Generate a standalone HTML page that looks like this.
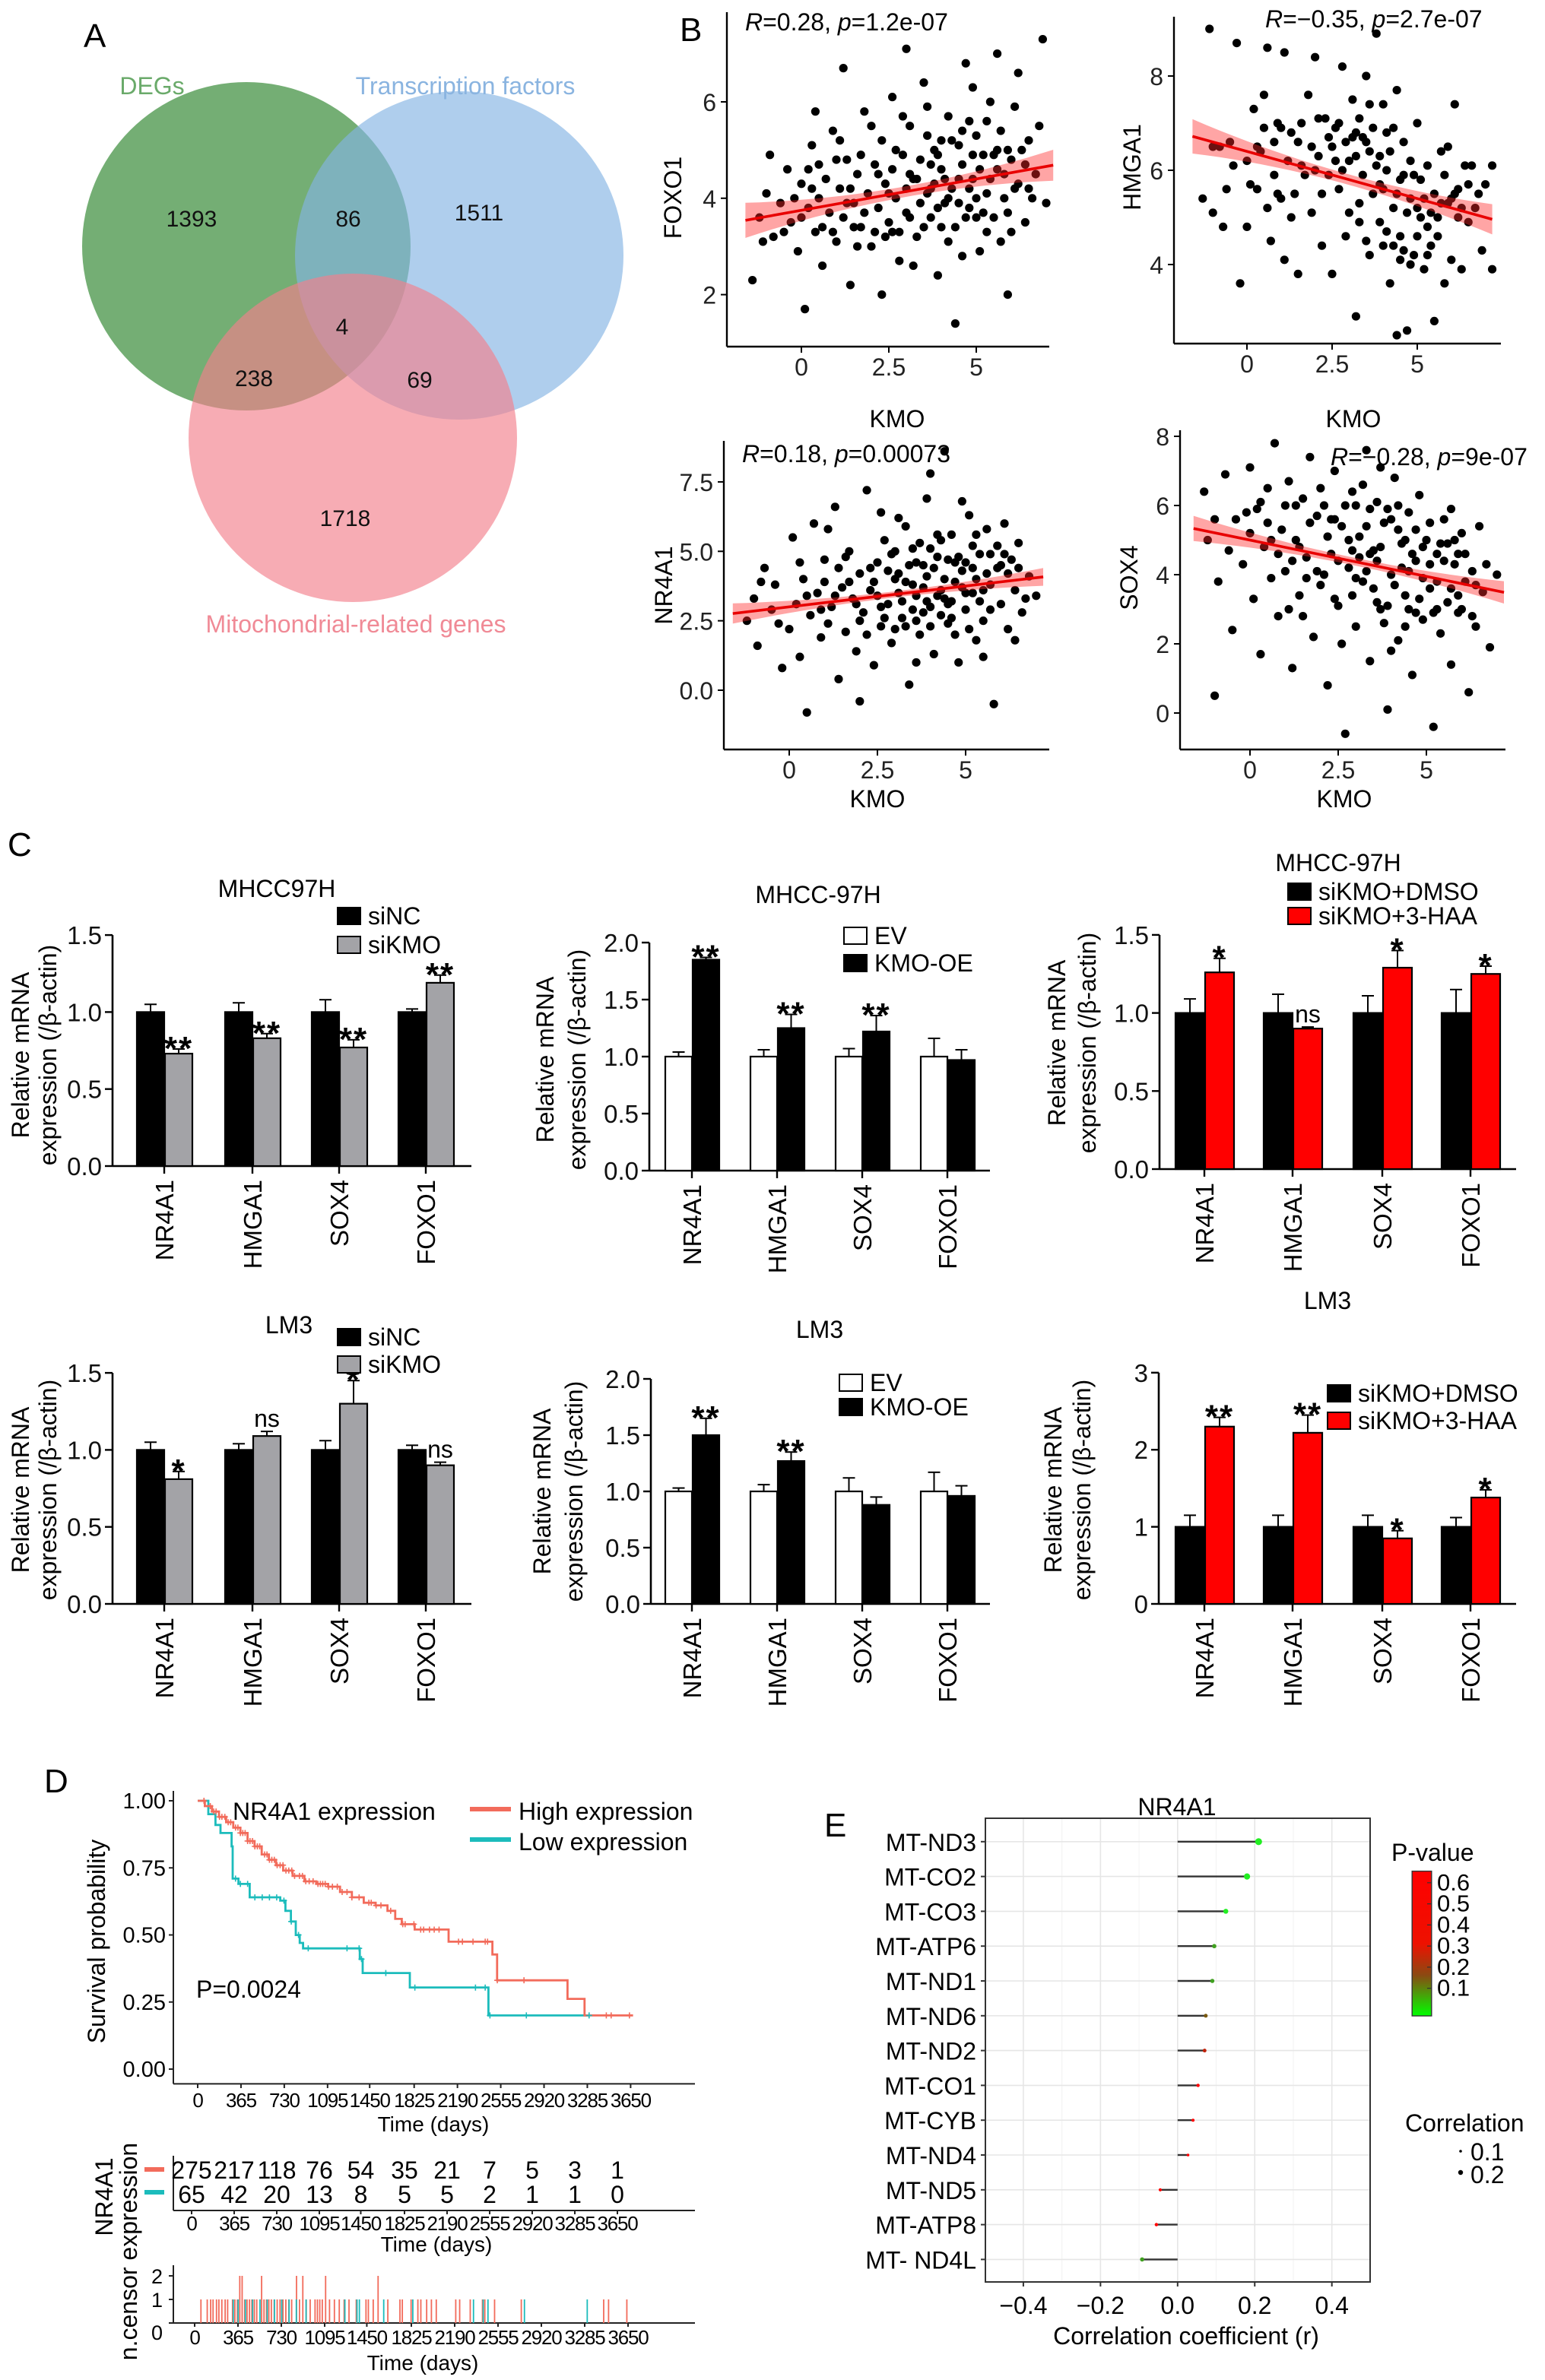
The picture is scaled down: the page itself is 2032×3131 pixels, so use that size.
<!DOCTYPE html>
<html><head><meta charset="utf-8"><title>KMO figure</title>
<style>
html,body{margin:0;padding:0;background:#fff;}
svg{display:block;font-family:"Liberation Sans",Arial,sans-serif;}
</style></head>
<body>
<svg id="fig" width="2032" height="3131" viewBox="0 0 1016 1565.5">
<rect x="0" y="0" width="1016" height="1565.5" fill="#fff"/>
<g>
  <text x="55" y="31" font-size="22">A</text>
  <circle cx="162" cy="162" r="108" fill="rgb(92,160,92)" fill-opacity="0.85"/>
  <circle cx="302" cy="168" r="108" fill="rgb(132,180,228)" fill-opacity="0.65"/>
  <circle cx="232" cy="288" r="108" fill="rgb(242,128,140)" fill-opacity="0.65"/>
  <text x="100" y="62" font-size="16" fill="#6aaa6a" text-anchor="middle">DEGs</text>
  <text x="306" y="62" font-size="16" fill="#8ab4e0" text-anchor="middle">Transcription factors</text>
  <text x="234" y="416" font-size="16" fill="#f08a96" text-anchor="middle">Mitochondrial-related genes</text>
  <g font-size="15" text-anchor="middle" fill="#111">
    <text x="126" y="149">1393</text>
    <text x="229" y="149">86</text>
    <text x="315" y="145">1511</text>
    <text x="225" y="220">4</text>
    <text x="167" y="254">238</text>
    <text x="276" y="255">69</text>
    <text x="227" y="346">1718</text>
  </g>
</g>
<g font-size="16">
  <text x="447" y="27" font-size="22">B</text>
  <text x="490" y="20"><tspan font-style="italic">R</tspan>=0.28, <tspan font-style="italic">p</tspan>=1.2e-07</text>
  <text x="832" y="18"><tspan font-style="italic">R</tspan>=−0.35, <tspan font-style="italic">p</tspan>=2.7e-07</text>
  <text x="488" y="304"><tspan font-style="italic">R</tspan>=0.18, <tspan font-style="italic">p</tspan>=0.00073</text>
  <text x="875" y="306"><tspan font-style="italic">R</tspan>=−0.28, <tspan font-style="italic">p</tspan>=9e-07</text>
  <text x="590" y="281" text-anchor="middle">KMO</text>
  <text x="890" y="281" text-anchor="middle">KMO</text>
  <text x="577" y="531" text-anchor="middle">KMO</text>
  <text x="884" y="531" text-anchor="middle">KMO</text>
  <text transform="translate(448,130) rotate(-90)" text-anchor="middle">FOXO1</text>
  <text transform="translate(750,110) rotate(-90)" text-anchor="middle">HMGA1</text>
  <text transform="translate(442,385) rotate(-90)" text-anchor="middle">NR4A1</text>
  <text transform="translate(748,380) rotate(-90)" text-anchor="middle">SOX4</text>
</g>
<text x="5" y="563" font-size="22">C</text>
<text x="29" y="1179" font-size="22">D</text>
<text x="542" y="1208" font-size="22">E</text>
<defs>
  <linearGradient id="pgrad" x1="0" y1="0" x2="0" y2="1">
    <stop offset="0" stop-color="#ff0000"/>
    <stop offset="0.5" stop-color="#ee1100"/>
    <stop offset="0.72" stop-color="#8a4a12"/>
    <stop offset="1" stop-color="#00ff00"/>
  </linearGradient>
</defs>
</svg>
<script>
// ---------------- DATA ----------------
const genes = ['NR4A1','HMGA1','SOX4','FOXO1'];
const foxo1Pts = [[-1.2,3.6],[-1,4.1],[-0.8,3.2],[-0.6,3.9],[-0.4,4.6],[-0.3,3.5],[-0.1,2.9],[0,4.3],[0.2,3.8],[0.3,5.1],[0.4,3.3],[0.5,4.0],[0.6,2.6],[0.7,4.4],[0.8,3.7],[0.9,5.4],[1.0,3.1],[1.1,4.2],[1.2,3.6],[1.3,4.8],[1.4,2.2],[1.5,3.9],[1.6,4.5],[1.7,3.4],[1.8,5.8],[1.9,4.1],[2.0,3.0],[2.1,4.7],[2.2,3.8],[2.3,5.2],[2.4,4.3],[2.5,3.5],[2.6,6.1],[2.7,4.0],[2.8,2.7],[2.9,4.9],[3.0,3.7],[3.1,5.5],[3.2,4.4],[3.3,3.2],[3.4,4.8],[3.5,6.4],[3.6,4.1],[3.7,3.6],[3.8,5.0],[3.9,2.4],[4.0,4.6],[4.1,3.9],[4.2,5.7],[4.3,4.2],[4.4,3.4],[4.5,5.1],[4.6,4.7],[4.7,6.8],[4.8,3.8],[4.9,4.4],[5.0,5.3],[5.1,2.9],[5.2,4.9],[5.3,4.1],[5.4,6.0],[5.5,3.6],[5.6,4.6],[5.7,5.4],[5.8,4.0],[5.9,2.0],[6.0,4.8],[6.1,5.9],[6.2,4.3],[6.4,3.5],[6.5,5.2],[6.7,4.5],[6.9,7.3],[7.0,3.9],[0.1,1.7],[1.2,6.7],[3.0,7.1],[4.4,1.4],[2.3,2.0],[5.6,7.0],[-1.4,2.3],[0.4,5.8],[3.6,5.9],[4.9,6.3],[2.0,5.5],[1.0,4.8],[3.8,4.3],[4.2,3.1],[5.3,3.3],[6.2,6.6],[-0.9,4.9],[2.8,3.3],[3.2,2.6],[4.6,2.8],[5.7,3.1],[6.6,4.0],[0.6,3.4],[1.6,3.0],[2.6,4.6],[3.4,3.9],[4.0,5.2],[5.0,4.0],[2.4,3.2],[3.1,4.5],[4.5,3.9],[5.9,5.0],[1.3,3.9],[0.2,4.6],[3.7,4.7],[4.8,5.6],[-1.1,3.1],[-0.5,3.3],[0.0,3.6],[0.5,4.7],[0.9,3.3],[1.4,4.2],[1.8,3.7],[2.1,3.3],[2.5,4.1],[2.7,5.0],[3.0,4.2],[3.3,4.4],[3.5,3.4],[3.7,4.2],[3.9,3.8],[4.1,4.4],[4.3,5.2],[4.5,4.4],[4.7,3.6],[4.9,4.9],[5.1,4.6],[5.2,3.7],[5.4,4.4],[5.6,5.0],[5.8,4.5],[6.0,3.3],[6.3,5.0],[6.5,4.2],[6.8,5.5],[1.1,5.2],[2.2,4.5],[2.9,5.7],[3.6,5.3],[4.2,4.0],[4.8,4.2],[5.3,5.6],[6.1,4.2],[1.7,4.9],[0.3,4.2],[2.6,3.3],[3.9,4.9],[4.6,5.4],[5.5,4.9],[6.4,4.7],[-0.2,4.0],[1.5,3.4],[3.1,3.6],[4.0,3.4],[5.0,3.6],[5.9,3.7]];
const hmga1Pts = [[-1.3,5.4],[-1.1,9.0],[-1,5.1],[-0.8,6.5],[-0.7,4.8],[-0.6,5.6],[-0.4,6.1],[-0.3,8.7],[-0.2,3.6],[0,6.2],[0,4.8],[0.2,7.3],[0.3,5.6],[0.4,6.4],[0.5,7.6],[0.6,8.6],[0.6,5.2],[0.7,4.5],[0.8,6.6],[0.9,7.0],[1.0,5.4],[1.1,8.5],[1.1,4.1],[1.3,6.8],[1.4,5.5],[1.5,3.8],[1.6,6.1],[1.8,7.6],[1.9,5.1],[2.0,8.4],[2.1,6.3],[2.2,4.4],[2.3,7.1],[2.4,5.9],[2.5,3.8],[2.6,6.9],[2.7,5.6],[2.8,8.2],[2.9,4.6],[3.0,6.2],[3.1,7.5],[3.2,2.9],[3.3,5.3],[3.4,6.7],[3.5,8.0],[3.6,4.2],[3.7,6.9],[3.7,5.5],[3.8,8.9],[3.9,4.9],[4.0,7.4],[4.1,6.0],[4.2,3.6],[4.3,5.2],[4.4,7.7],[4.5,4.6],[4.6,6.6],[4.7,2.6],[4.8,5.4],[4.9,4.2],[5.0,7.0],[5.1,5.8],[5.2,3.9],[5.3,6.1],[5.4,4.4],[5.5,2.8],[5.6,5.0],[5.7,6.4],[5.8,3.6],[5.9,5.3],[6.0,4.1],[6.1,7.4],[6.2,5.6],[6.3,3.9],[6.4,6.1],[6.5,4.9],[6.7,5.2],[6.9,4.3],[7.0,5.7],[7.2,6.1],[7.2,3.9],[6.6,6.1],[5.3,4.8],[4.6,5.9],[3.9,6.3],[3.3,7.1],[2.6,6.2],[1.7,5.9],[0.9,5.5],[4.1,4.7],[4.4,2.5],[5.9,6.5],[2.1,7.1],[2.9,6.6],[4.8,4.0],[5.5,5.5],[3.5,4.5],[1.3,5.0],[6.2,5.0],[4.3,6.9],[3.2,6.8],[4.0,5.6],[5.0,5.2],[2.4,6.7],[3.6,6.4],[4.5,5.8],[5.7,5.3],[1.0,6.9],[-1.0,6.5],[-0.5,6.6],[0.1,5.7],[0.5,6.9],[0.8,5.9],[1.2,6.2],[1.6,7.0],[1.9,6.5],[2.2,5.5],[2.5,6.5],[2.8,6.0],[3.0,5.1],[3.2,6.3],[3.4,5.9],[3.6,7.4],[3.8,6.1],[4.0,4.4],[4.2,6.4],[4.4,5.5],[4.6,4.3],[4.8,6.2],[5.0,4.6],[5.2,5.4],[5.4,5.1],[5.6,4.6],[5.8,5.9],[6.0,5.4],[6.3,5.2],[6.5,5.7],[6.8,5.5],[3.1,6.7],[3.5,6.6],[3.9,5.7],[4.3,4.4],[4.7,5.1],[5.1,5.0],[2.0,6.0],[2.7,7.0],[4.1,6.8],[4.9,5.9],[5.3,4.2],[6.1,5.5],[1.5,6.6],[0.3,6.5],[3.3,4.9],[4.5,4.1]];
const nr4a1Pts = [[-1.2,2.5],[-1,3.3],[-0.9,1.6],[-0.7,4.4],[-0.5,2.9],[-0.4,3.8],[-0.2,0.8],[0,2.2],[0.1,5.5],[0.2,3.1],[0.3,1.2],[0.4,4.0],[0.5,-0.8],[0.6,2.7],[0.7,6.0],[0.8,3.5],[0.9,1.9],[1.0,4.7],[1.1,2.4],[1.2,3.0],[1.3,6.6],[1.4,0.4],[1.5,3.7],[1.6,2.1],[1.7,5.0],[1.8,3.3],[1.9,1.4],[2.0,4.2],[2.1,2.8],[2.2,7.2],[2.3,3.6],[2.4,0.9],[2.5,4.6],[2.6,2.3],[2.7,5.4],[2.8,3.1],[2.9,1.7],[3.0,4.0],[3.1,6.2],[3.2,2.6],[3.3,3.9],[3.4,0.2],[3.5,5.1],[3.6,3.4],[3.7,2.0],[3.8,4.5],[3.9,6.9],[4.0,3.0],[4.1,1.3],[4.2,4.8],[4.3,3.6],[4.4,8.6],[4.5,2.4],[4.6,5.6],[4.7,3.9],[4.8,1.0],[4.9,4.3],[5.0,2.9],[5.1,6.3],[5.2,3.5],[5.3,1.8],[5.4,4.9],[5.5,2.5],[5.6,5.8],[5.7,3.8],[5.8,-0.5],[5.9,4.4],[6.0,3.1],[6.1,6.0],[6.2,2.2],[6.3,4.7],[6.4,3.6],[6.5,5.3],[6.6,2.8],[6.8,4.1],[7.0,3.4],[4.0,7.8],[2.0,-0.4],[3.3,5.9],[4.9,6.8],[1.1,5.8],[5.5,1.2],[3.6,1.0],[2.6,6.4],[4.4,4.0],[5.2,5.2],[3.0,2.2],[1.7,3.9],[6.1,4.9],[4.7,2.0],[0.5,3.4],[2.9,4.9],[3.9,3.2],[5.0,4.6],[4.3,5.4],[3.5,2.9],[2.2,2.0],[6.4,1.8],[1.4,4.4],[5.7,4.9],[3.1,3.5],[4.6,3.2],[2.4,3.9],[5.3,4.0],[3.8,3.7],[4.1,4.4],[-0.8,3.9],[-0.3,2.4],[0.3,4.6],[0.9,2.9],[1.3,3.4],[1.6,4.8],[2.0,2.5],[2.3,4.4],[2.6,3.0],[2.8,4.3],[3.0,5.0],[3.2,3.2],[3.4,4.5],[3.6,2.5],[3.7,5.3],[3.9,4.1],[4.0,2.3],[4.2,3.4],[4.3,2.7],[4.5,4.7],[4.6,2.6],[4.8,4.8],[5.0,3.5],[5.1,2.2],[5.3,5.6],[5.5,3.6],[5.7,2.9],[5.9,5.2],[6.2,4.2],[6.5,4.4],[6.7,3.3],[3.5,3.8],[4.9,3.7],[4.0,5.1],[2.7,2.6],[3.3,2.3],[4.4,3.3],[5.6,4.2],[1.9,3.1],[2.5,3.4],[3.8,2.8],[4.7,4.6],[5.4,3.2],[6.0,4.5],[1.0,3.9],[3.1,4.2],[4.2,5.6],[5.2,4.4],[3.6,4.6],[4.5,3.1]];
const sox4Pts = [[-1.3,6.4],[-1.2,5.0],[-1,0.5],[-0.9,3.8],[-0.7,6.9],[-0.5,2.4],[-0.4,5.6],[-0.2,4.3],[0,7.1],[0.1,3.3],[0.2,5.9],[0.3,1.7],[0.4,4.8],[0.5,6.5],[0.6,3.9],[0.7,7.8],[0.8,2.8],[0.9,5.3],[1.0,4.1],[1.1,6.7],[1.2,1.3],[1.3,5.0],[1.4,3.4],[1.5,6.2],[1.6,4.5],[1.7,7.4],[1.8,2.2],[1.9,5.7],[2.0,3.7],[2.1,6.0],[2.2,0.8],[2.3,4.6],[2.4,7.0],[2.5,3.1],[2.6,5.4],[2.7,-0.6],[2.8,4.2],[2.9,6.4],[3.0,2.5],[3.1,5.1],[3.2,3.8],[3.3,7.6],[3.4,1.5],[3.5,4.7],[3.6,6.1],[3.7,3.0],[3.8,5.5],[3.9,0.1],[4.0,4.0],[4.1,6.8],[4.2,2.1],[4.3,4.9],[4.4,3.4],[4.5,5.8],[4.6,1.1],[4.7,4.4],[4.8,6.3],[4.9,2.7],[5.0,5.0],[5.1,3.6],[5.2,-0.4],[5.3,4.6],[5.4,2.3],[5.5,5.6],[5.6,3.2],[5.7,1.4],[5.8,4.3],[5.9,2.9],[6.0,5.2],[6.1,3.8],[6.2,0.6],[6.3,4.1],[6.4,2.5],[6.5,5.4],[6.6,3.5],[6.8,1.9],[7.0,4.0],[3.4,5.9],[2.2,5.1],[4.0,1.8],[1.5,2.8],[4.5,4.1],[5.7,5.9],[0.8,4.6],[3.0,3.9],[2.6,2.0],[4.9,4.8],[3.7,7.1],[1.1,3.0],[5.3,3.0],[6.3,2.8],[4.2,5.3],[0.3,6.1],[2.9,4.7],[3.9,3.1],[5.9,4.6],[1.9,4.1],[4.7,2.9],[-0.1,5.8],[3.2,6.6],[2.4,5.6],[3.6,4.4],[4.4,5.0],[1.3,6.0],[5.1,4.3],[3.3,4.1],[-1.0,5.6],[-0.6,4.7],[0.0,5.2],[0.5,5.5],[1.0,6.0],[1.4,4.8],[1.7,5.5],[2.0,6.5],[2.3,5.6],[2.5,4.4],[2.7,6.0],[2.9,3.4],[3.1,4.5],[3.3,5.4],[3.5,3.6],[3.7,4.8],[3.9,5.9],[4.1,3.7],[4.3,4.2],[4.5,3.0],[4.7,5.3],[4.9,3.9],[5.1,5.5],[5.3,3.8],[5.5,4.4],[5.7,3.6],[5.9,3.4],[6.1,4.6],[6.4,3.7],[6.7,4.3],[2.1,4.0],[2.8,5.0],[3.4,4.6],[4.0,5.6],[4.6,4.6],[5.2,2.9],[5.8,5.0],[1.6,3.9],[3.6,3.2],[4.8,3.3],[6.0,3.0],[0.6,5.0],[2.4,3.3],[3.8,2.6],[4.2,6.0],[5.4,4.9],[1.2,4.4],[3.0,6.0],[4.4,2.5],[5.6,4.9]];
const fitIntercept = [3.75, 6.4, 3.0, 5.0];
const fitSlope = [0.13, -0.2, 0.15, -0.21];
const xTicksB = [0, 2.5, 5];
const xTickLabelsB = ['0','2.5','5'];
const foxo1Ticks = [2,4,6];
const hmga1Ticks = [4,6,8];
const nr4a1Ticks = [0,2.5,5,7.5];
const nr4a1TickLabels = ['0.0','2.5','5.0','7.5'];
const sox4Ticks = [0,2,4,6,8];

const c1Ctrl = [1,1,1,1], c1CtrlErr = [1.05,1.06,1.08,1.02];
const c1Trt = [0.73,0.83,0.77,1.19], c1TrtErr = [0.76,0.86,0.82,1.24];
const c1Sig = ['**','**','**','**'];
const c2Ctrl = [1,1,1,1], c2CtrlErr = [1.04,1.06,1.07,1.16];
const c2Trt = [1.85,1.25,1.22,0.97], c2TrtErr = [1.87,1.37,1.36,1.06];
const c2Sig = ['**','**','**',''];
const c3Ctrl = [1,1,1,1], c3CtrlErr = [1.09,1.12,1.11,1.15];
const c3Trt = [1.26,0.90,1.29,1.25], c3TrtErr = [1.35,0.91,1.40,1.30];
const c3Sig = ['*','ns','*','*'];
const c4Ctrl = [1,1,1,1], c4CtrlErr = [1.05,1.04,1.06,1.03];
const c4Trt = [0.81,1.09,1.30,0.90], c4TrtErr = [0.86,1.12,1.45,0.92];
const c4Sig = ['*','ns','*','ns'];
const c5Ctrl = [1,1,1,1], c5CtrlErr = [1.03,1.06,1.12,1.17];
const c5Trt = [1.50,1.27,0.88,0.96], c5TrtErr = [1.65,1.35,0.95,1.05];
const c5Sig = ['**','**','',''];
const c6Ctrl = [1,1,1,1], c6CtrlErr = [1.15,1.15,1.15,1.12];
const c6Trt = [2.30,2.22,0.85,1.38], c6TrtErr = [2.42,2.45,0.95,1.48];
const c6Sig = ['**','**','*','*'];
const ticks15 = [0,0.5,1.0,1.5], ticks15Labels = ['0.0','0.5','1.0','1.5'];
const ticks20 = [0,0.5,1.0,1.5,2.0], ticks20Labels = ['0.0','0.5','1.0','1.5','2.0'];
const ticks3 = [0,1,2,3], ticks3Labels = ['0','1','2','3'];

const highTimes = [0,60,120,180,240,300,360,420,480,540,600,660,720,800,900,1000,1100,1200,1300,1400,1500,1600,1665,1720,1829,2116,2484,2525,3118,3261];
const highSurv  = [1,0.98,0.96,0.94,0.92,0.90,0.88,0.85,0.83,0.80,0.78,0.76,0.74,0.72,0.70,0.69,0.68,0.66,0.64,0.62,0.61,0.59,0.56,0.54,0.52,0.475,0.427,0.331,0.262,0.20];
const highEnd = 3670;
const lowTimes = [0,90,150,192,286,295,343,438,696,740,786,827,860,888,1367,1391,1788,2451];
const lowSurv  = [1,0.95,0.91,0.88,0.83,0.71,0.69,0.64,0.628,0.59,0.55,0.50,0.47,0.45,0.41,0.358,0.304,0.20];
const lowEnd = 3302;
const highCensor = [53,106,135,155,184,204,229,257,278,319,339,360,380,400,421,441,462,482,503,523,564,584,605,625,646,670,695,719,744,768,793,817,858,883,911,940,973,1014,1034,1054,1075,1103,1136,1177,1218,1259,1300,1361,1443,1463,1504,1545,1627,1729,1749,1823,1880,1905,1954,1994,2035,2199,2232,2321,2424,2444,2526,2751,3445,3486,3640];
const highCensorN = [1,1,1,1,1,1,1,1,1,1,1,1,2,2,1,1,1,1,1,1,2,1,1,1,1,1,1,1,1,1,1,1,2,1,2,1,1,1,1,1,1,2,1,1,1,1,1,1,1,1,1,2,1,1,1,1,1,1,1,1,1,1,1,1,1,1,1,1,1,1,1];
const lowCensor = [319,360,421,482,544,605,666,727,789,850,932,1259,1361,1381,1586,1831,2342,2424,2464,2771,3300];
const timeTicks = [0,365,730,1095,1450,1825,2190,2555,2920,3285,3650];
const riskHigh = [275,217,118,76,54,35,21,7,5,3,1];
const riskLow = [65,42,20,13,8,5,5,2,1,1,0];
const survTicks = [0,0.25,0.5,0.75,1.0], survTickLabels = ['0.00','0.25','0.50','0.75','1.00'];

const mtGenes = ['MT-ND3','MT-CO2','MT-CO3','MT-ATP6','MT-ND1','MT-ND6','MT-ND2','MT-CO1','MT-CYB','MT-ND4','MT-ND5','MT-ATP8','MT- ND4L'];
const mtCorr = [0.21,0.18,0.125,0.095,0.09,0.073,0.07,0.053,0.04,0.027,-0.045,-0.055,-0.092];
const mtP = [0.0001,0.001,0.02,0.08,0.1,0.18,0.2,0.35,0.45,0.6,0.4,0.3,0.08];
const corrTicks = [-0.4,-0.2,0,0.2,0.4], corrTickLabels = ['−0.4','−0.2','0.0','0.2','0.4'];
const pTicks = [0.1,0.2,0.3,0.4,0.5,0.6];

// ---------------- HELPERS ----------------
const NS = 'http://www.w3.org/2000/svg';
const svg = document.getElementById('fig');
function add(parent, tag, attrs, name) {
  const el = document.createElementNS(NS, tag);
  for (const k in attrs) el.setAttribute(k, attrs[k]);
  
  
  parent.appendChild(el);
  return el;
}
function txt(parent, x, y, s, opts, name) {
  const t = add(parent, 'text', Object.assign({x: x, y: y}, opts || {}), name);
  t.textContent = s;
  return t;
}
function group(name) { return add(svg, 'g', {}, name); }

// ---------------- PANEL B ----------------
function scatter(name, pts, idx, geo, yTicks, yTickLabels) {
  const g = group(name);
  const sx = v => geo.x0 + v * geo.xPer;
  const sy = v => geo.y0 - v * geo.yPer;
  add(g, 'line', {x1: geo.left, y1: geo.top, x2: geo.left, y2: geo.bottom, stroke: '#000', 'stroke-width': 1.2}, 'y-axis-line');
  add(g, 'line', {x1: geo.left, y1: geo.bottom, x2: geo.right, y2: geo.bottom, stroke: '#000', 'stroke-width': 1.2}, 'x-axis-line');
  xTicksB.forEach((v, i) => {
    add(g, 'line', {x1: sx(v), y1: geo.bottom, x2: sx(v), y2: geo.bottom + 4, stroke: '#000', 'stroke-width': 1}, 'x-tick');
    txt(g, sx(v), geo.bottom + 19, xTickLabelsB[i], {'font-size': 16, 'text-anchor': 'middle', fill: '#222'}, 'x-tick-label');
  });
  yTicks.forEach((v, i) => {
    add(g, 'line', {x1: geo.left - 4, y1: sy(v), x2: geo.left, y2: sy(v), stroke: '#000', 'stroke-width': 1}, 'y-tick');
    txt(g, geo.left - 7, sy(v) + 6, yTickLabels[i], {'font-size': 16, 'text-anchor': 'end', fill: '#222'}, 'y-tick-label');
  });
  pts.forEach(p => {
    add(g, 'circle', {cx: sx(p[0]), cy: sy(p[1]), r: 2.8, fill: '#000'}, 'scatter-point');
  });
  const a = fitIntercept[idx], b = fitSlope[idx];
  const xs = [];
  for (let x = -1.6; x <= 7.21; x += 0.4) xs.push(x);
  const hw = x => 0.11 + 0.012 * (x - 3) * (x - 3);
  let d = '';
  xs.forEach((x, i) => { d += (i ? 'L' : 'M') + sx(x).toFixed(1) + ',' + sy(a + b * x + hw(x)).toFixed(1); });
  xs.slice().reverse().forEach(x => { d += 'L' + sx(x).toFixed(1) + ',' + sy(a + b * x - hw(x)).toFixed(1); });
  add(g, 'path', {d: d + 'Z', fill: 'rgba(255,40,40,0.42)', stroke: 'none'}, 'confidence-band');
  add(g, 'line', {x1: sx(-1.6), y1: sy(a + b * -1.6), x2: sx(7.2), y2: sy(a + b * 7.2), stroke: '#e80000', 'stroke-width': 1.8}, 'regression-line');
}
scatter('scatter-foxo1', foxo1Pts, 0, {x0: 527, xPer: 23, y0: 257.2, yPer: 31.7, left: 478, right: 690, top: 8, bottom: 228}, foxo1Ticks, ['2','4','6']);
scatter('scatter-hmga1', hmga1Pts, 1, {x0: 820, xPer: 22.4, y0: 298, yPer: 31, left: 772, right: 987, top: 11, bottom: 226}, hmga1Ticks, ['4','6','8']);
scatter('scatter-nr4a1', nr4a1Pts, 2, {x0: 519, xPer: 23.2, y0: 454, yPer: 18.27, left: 476, right: 690, top: 290, bottom: 493}, nr4a1Ticks, nr4a1TickLabels);
scatter('scatter-sox4', sox4Pts, 3, {x0: 822, xPer: 23.2, y0: 469, yPer: 22.75, left: 776, right: 990, top: 283, bottom: 493}, sox4Ticks, ['0','2','4','6','8']);

// ---------------- PANEL C ----------------
function barChart(name, geo, ctrl, ctrlErr, trt, trtErr, sig, ticks, tickLabels, ymax, style) {
  const g = group(name);
  const sy = v => geo.y0 - v * geo.per;
  add(g, 'line', {x1: geo.ax, y1: sy(ymax), x2: geo.ax, y2: geo.y0, stroke: '#000', 'stroke-width': 1.3}, 'y-axis-line');
  add(g, 'line', {x1: geo.ax, y1: geo.y0, x2: geo.end, y2: geo.y0, stroke: '#000', 'stroke-width': 1.3}, 'x-axis-line');
  ticks.forEach((v, i) => {
    add(g, 'line', {x1: geo.ax - 5, y1: sy(v), x2: geo.ax, y2: sy(v), stroke: '#000', 'stroke-width': 1.2}, 'y-tick');
    txt(g, geo.ax - 7, sy(v) + 6, tickLabels[i], {'font-size': 16.5, 'text-anchor': 'end', fill: '#111'}, 'y-tick-label');
  });
  const bw = geo.bw;
  geo.cats.forEach((cx, i) => {
    add(g, 'rect', {x: cx - bw, y: sy(ctrl[i]), width: bw, height: geo.y0 - sy(ctrl[i]), fill: style.c1, stroke: '#000', 'stroke-width': 1.1}, 'bar-control-' + genes[i].toLowerCase());
    add(g, 'rect', {x: cx + 0.5, y: sy(trt[i]), width: bw, height: geo.y0 - sy(trt[i]), fill: style.c2, stroke: '#000', 'stroke-width': 1.1}, 'bar-treatment-' + genes[i].toLowerCase());
    const m1 = cx - bw / 2, m2 = cx + 0.5 + bw / 2;
    add(g, 'line', {x1: m1, y1: sy(ctrl[i]), x2: m1, y2: sy(ctrlErr[i]), stroke: '#000', 'stroke-width': 1}, 'error-bar');
    add(g, 'line', {x1: m1 - 4, y1: sy(ctrlErr[i]), x2: m1 + 4, y2: sy(ctrlErr[i]), stroke: '#000', 'stroke-width': 1}, 'error-cap');
    add(g, 'line', {x1: m2, y1: sy(trt[i]), x2: m2, y2: sy(trtErr[i]), stroke: '#000', 'stroke-width': 1}, 'error-bar');
    add(g, 'line', {x1: m2 - 4, y1: sy(trtErr[i]), x2: m2 + 4, y2: sy(trtErr[i]), stroke: '#000', 'stroke-width': 1}, 'error-cap');
    if (sig[i] === 'ns') txt(g, m2, sy(trtErr[i]) - 3, 'ns', {'font-size': 16, 'text-anchor': 'middle'}, 'significance-label');
    else if (sig[i]) txt(g, m2, sy(trtErr[i]) + 7, sig[i], {'font-size': 22, 'font-weight': 'bold', 'text-anchor': 'middle', 'letter-spacing': '1'}, 'significance-label');
    add(g, 'line', {x1: cx, y1: geo.y0, x2: cx, y2: geo.y0 + 5, stroke: '#000', 'stroke-width': 1.2}, 'x-tick');
    txt(g, 0, 0, genes[i], {'font-size': 16.5, 'text-anchor': 'end', transform: 'translate(' + (cx + 6) + ',' + (geo.y0 + 9) + ') rotate(-90)'}, 'x-tick-label');
  });
  txt(g, geo.titleX, geo.titleY, geo.title, {'font-size': 16, 'text-anchor': 'middle'}, 'chart-title');
  const lx = geo.legX, ly = geo.legY;
  add(g, 'rect', {x: lx, y: ly, width: 15, height: 11, fill: style.c1, stroke: '#000', 'stroke-width': 1}, 'legend-swatch-control');
  txt(g, lx + 20, ly + 11, style.l1, {'font-size': 16}, 'legend-label-control');
  add(g, 'rect', {x: lx, y: ly + geo.legGap, width: 15, height: 11, fill: style.c2, stroke: '#000', 'stroke-width': 1}, 'legend-swatch-treatment');
  txt(g, lx + 20, ly + geo.legGap + 11, style.l2, {'font-size': 16}, 'legend-label-treatment');
  txt(g, 0, 0, 'Relative mRNA', {'font-size': 16, 'text-anchor': 'middle', transform: 'translate(' + (geo.ax + geo.yl1) + ',' + geo.ylY + ') rotate(-90)'}, 'y-axis-title-line1');
  txt(g, 0, 0, 'expression (/β-actin)', {'font-size': 16, 'text-anchor': 'middle', transform: 'translate(' + (geo.ax + geo.yl2) + ',' + geo.ylY + ') rotate(-90)'}, 'y-axis-title-line2');
}
const sSi = {c1: '#000', c2: '#a3a3a7', l1: 'siNC', l2: 'siKMO'};
const sOE = {c1: '#fff', c2: '#000', l1: 'EV', l2: 'KMO-OE'};
const sHAA = {c1: '#000', c2: '#ff0000', l1: 'siKMO+DMSO', l2: 'siKMO+3-HAA'};
barChart('bar-chart-mhcc97h-sikmo', {ax: 74, y0: 767, per: 101.3, end: 310, cats: [108,166,223,280], bw: 18, title: 'MHCC97H', titleX: 182, titleY: 590, legX: 222, legY: 597, legGap: 19, yl1: -55, yl2: -37, ylY: 694}, c1Ctrl, c1CtrlErr, c1Trt, c1TrtErr, c1Sig, ticks15, ticks15Labels, 1.5, sSi);
barChart('bar-chart-mhcc97h-kmo-oe', {ax: 427, y0: 770, per: 75, end: 651, cats: [455,511,567,623], bw: 17.5, title: 'MHCC-97H', titleX: 538, titleY: 594, legX: 555, legY: 610, legGap: 18, yl1: -63, yl2: -42, ylY: 697}, c2Ctrl, c2CtrlErr, c2Trt, c2TrtErr, c2Sig, ticks20, ticks20Labels, 2.0, sOE);
barChart('bar-chart-mhcc97h-3haa', {ax: 762.5, y0: 769, per: 102.7, end: 997, cats: [792,850,909,967], bw: 19, title: 'MHCC-97H', titleX: 880, titleY: 573, legX: 847, legY: 581, legGap: 16, yl1: -62, yl2: -42, ylY: 686}, c3Ctrl, c3CtrlErr, c3Trt, c3TrtErr, c3Sig, ticks15, ticks15Labels, 1.5, sHAA);
barChart('bar-chart-lm3-sikmo', {ax: 74, y0: 1055, per: 101.3, end: 310, cats: [108,166,223,280], bw: 18, title: 'LM3', titleX: 190, titleY: 877, legX: 222, legY: 874, legGap: 18, yl1: -55, yl2: -37, ylY: 980}, c4Ctrl, c4CtrlErr, c4Trt, c4TrtErr, c4Sig, ticks15, ticks15Labels, 1.5, sSi);
barChart('bar-chart-lm3-kmo-oe', {ax: 428, y0: 1055, per: 74, end: 651, cats: [455,511,567,623], bw: 17.5, title: 'LM3', titleX: 539, titleY: 880, legX: 552, legY: 904, legGap: 16, yl1: -66, yl2: -45, ylY: 981}, c5Ctrl, c5CtrlErr, c5Trt, c5TrtErr, c5Sig, ticks20, ticks20Labels, 2.0, sOE);
barChart('bar-chart-lm3-3haa', {ax: 762, y0: 1055, per: 50.7, end: 997, cats: [792,850,909,967], bw: 19, title: 'LM3', titleX: 873, titleY: 861, legX: 873, legY: 911, legGap: 18, yl1: -64, yl2: -45, ylY: 980}, c6Ctrl, c6CtrlErr, c6Trt, c6TrtErr, c6Sig, ticks3, ticks3Labels, 3.0, sHAA);

// ---------------- PANEL D ----------------
(function () {
  const g = group('panel-d-survival');
  const sx = t => 130 + t * (284.7 / 3650);
  const sy = v => 1361 - v * 176.5;
  const RED = '#f26b5b', TEAL = '#1cbcbc';
  add(g, 'line', {x1: 114, y1: 1178, x2: 114, y2: 1370.7, stroke: '#222', 'stroke-width': 1}, 'y-axis-line');
  add(g, 'line', {x1: 114, y1: 1370.7, x2: 457, y2: 1370.7, stroke: '#222', 'stroke-width': 1}, 'x-axis-line');
  survTicks.forEach((v, i) => {
    add(g, 'line', {x1: 111, y1: sy(v), x2: 114, y2: sy(v), stroke: '#222'}, 'y-tick');
    txt(g, 109, sy(v) + 5, survTickLabels[i], {'font-size': 14.5, 'text-anchor': 'end'}, 'y-tick-label');
  });
  timeTicks.forEach(t => {
    add(g, 'line', {x1: sx(t), y1: 1370.7, x2: sx(t), y2: 1373.5, stroke: '#222'}, 'x-tick');
    txt(g, sx(t), 1386, String(t), {'font-size': 13, 'text-anchor': 'middle', 'letter-spacing': '-0.6'}, 'x-tick-label');
  });
  txt(g, 285, 1402, 'Time (days)', {'font-size': 14, 'text-anchor': 'middle'}, 'x-axis-title');
  txt(g, 0, 0, 'Survival probability', {'font-size': 16, 'text-anchor': 'middle', transform: 'translate(69,1277) rotate(-90)'}, 'y-axis-title');
  function steps(times, surv, end) {
    let d = 'M' + sx(times[0]) + ',' + sy(surv[0]);
    for (let i = 1; i < times.length; i++) d += 'H' + sx(times[i]).toFixed(1) + 'V' + sy(surv[i]).toFixed(1);
    return d + 'H' + sx(end).toFixed(1);
  }
  function survAt(times, surv, t) { let s = surv[0]; for (let i = 0; i < times.length; i++) if (times[i] <= t) s = surv[i]; return s; }
  add(g, 'path', {d: steps(lowTimes, lowSurv, lowEnd), fill: 'none', stroke: TEAL, 'stroke-width': 1.4}, 'km-curve-low');
  add(g, 'path', {d: steps(highTimes, highSurv, highEnd), fill: 'none', stroke: RED, 'stroke-width': 1.4}, 'km-curve-high');
  highCensor.forEach(t => { const y = sy(survAt(highTimes, highSurv, t)); add(g, 'path', {d: 'M' + (sx(t) - 2) + ',' + y + 'h4M' + sx(t) + ',' + (y - 2) + 'v4', stroke: RED, 'stroke-width': 0.8}, 'censor-mark-high'); });
  lowCensor.forEach(t => { const y = sy(survAt(lowTimes, lowSurv, t)); add(g, 'path', {d: 'M' + (sx(t) - 2) + ',' + y + 'h4M' + sx(t) + ',' + (y - 2) + 'v4', stroke: TEAL, 'stroke-width': 0.8}, 'censor-mark-low'); });
  txt(g, 153, 1197, 'NR4A1 expression', {'font-size': 16}, 'legend-title');
  add(g, 'line', {x1: 309, y1: 1190, x2: 336, y2: 1190, stroke: RED, 'stroke-width': 3}, 'legend-swatch-high');
  txt(g, 341, 1197, 'High expression', {'font-size': 16}, 'legend-label-high');
  add(g, 'line', {x1: 309, y1: 1210, x2: 336, y2: 1210, stroke: TEAL, 'stroke-width': 3}, 'legend-swatch-low');
  txt(g, 341, 1217, 'Low expression', {'font-size': 16}, 'legend-label-low');
  txt(g, 129, 1314, 'P=0.0024', {'font-size': 16}, 'p-value-label');

  const rx = t => 126 + t * (280 / 3650);
  add(g, 'line', {x1: 114, y1: 1418, x2: 114, y2: 1454, stroke: '#222'}, 'risk-y-axis');
  add(g, 'line', {x1: 114, y1: 1454, x2: 457, y2: 1454, stroke: '#222'}, 'risk-x-axis');
  riskHigh.forEach((n, i) => txt(g, rx(timeTicks[i]), 1433, String(n), {'font-size': 16, 'text-anchor': 'middle'}, 'risk-count-high'));
  riskLow.forEach((n, i) => txt(g, rx(timeTicks[i]), 1449, String(n), {'font-size': 16, 'text-anchor': 'middle'}, 'risk-count-low'));
  add(g, 'line', {x1: 95, y1: 1427, x2: 108, y2: 1427, stroke: RED, 'stroke-width': 3}, 'risk-swatch-high');
  add(g, 'line', {x1: 95, y1: 1442, x2: 108, y2: 1442, stroke: TEAL, 'stroke-width': 3}, 'risk-swatch-low');
  timeTicks.forEach(t => {
    add(g, 'line', {x1: rx(t), y1: 1454, x2: rx(t), y2: 1456.5, stroke: '#222'}, 'risk-x-tick');
    txt(g, rx(t), 1467, String(t), {'font-size': 13, 'text-anchor': 'middle', 'letter-spacing': '-0.6'}, 'risk-x-tick-label');
  });
  txt(g, 287, 1481, 'Time (days)', {'font-size': 14, 'text-anchor': 'middle'}, 'risk-x-axis-title');
  txt(g, 0, 0, 'NR4A1', {'font-size': 16, 'text-anchor': 'middle', transform: 'translate(74,1445) rotate(-90)'}, 'risk-strata-title');
  txt(g, 0, 0, 'n.censor expression', {'font-size': 16, 'text-anchor': 'middle', transform: 'translate(90,1481) rotate(-90)'}, 'censor-y-axis-title');

  const cx = t => 128 + t * (285 / 3650);
  const cy = n => 1528 - n * 15.5;
  add(g, 'line', {x1: 114, y1: 1490, x2: 114, y2: 1528, stroke: '#222'}, 'censor-y-axis');
  add(g, 'line', {x1: 114, y1: 1528, x2: 457, y2: 1528, stroke: '#222'}, 'censor-x-axis');
  [0,1,2].forEach(n => {
    add(g, 'line', {x1: 111, y1: cy(n), x2: 114, y2: cy(n), stroke: '#222'}, 'censor-y-tick');
    txt(g, 107, cy(n) + 5 + (n === 0 ? 6 : 0), String(n), {'font-size': 13.5, 'text-anchor': 'end'}, 'censor-y-tick-label');
  });
  highCensor.forEach((t, i) => add(g, 'line', {x1: cx(t), y1: 1528, x2: cx(t), y2: cy(highCensorN[i]), stroke: RED, 'stroke-width': 0.9}, 'censor-bar-high'));
  lowCensor.forEach(t => add(g, 'line', {x1: cx(t) + 0.5, y1: 1528, x2: cx(t) + 0.5, y2: cy(1), stroke: TEAL, 'stroke-width': 0.9}, 'censor-bar-low'));
  timeTicks.forEach(t => {
    add(g, 'line', {x1: cx(t), y1: 1528, x2: cx(t), y2: 1530.5, stroke: '#222'}, 'censor-x-tick');
    txt(g, cx(t), 1542, String(t), {'font-size': 13, 'text-anchor': 'middle', 'letter-spacing': '-0.6'}, 'censor-x-tick-label');
  });
  txt(g, 278, 1559, 'Time (days)', {'font-size': 14, 'text-anchor': 'middle'}, 'censor-x-axis-title');
})();

// ---------------- PANEL E ----------------
(function () {
  const g = group('panel-e-lollipop');
  const sx = v => 774.4 + v * 253.6;
  const sy = i => 1211.4 + i * 22.9;
  const L = 648, R = 901, T = 1196, B = 1501;
  [-0.5,-0.3,-0.1,0.1,0.3,0.5].forEach(v => { if (sx(v) > L && sx(v) < R) add(g, 'line', {x1: sx(v), y1: T, x2: sx(v), y2: B, stroke: '#f4f4f4', 'stroke-width': 0.6}, 'minor-gridline'); });
  corrTicks.forEach(v => add(g, 'line', {x1: sx(v), y1: T, x2: sx(v), y2: B, stroke: '#e6e6e6', 'stroke-width': 0.8}, 'major-gridline'));
  mtGenes.forEach((n, i) => add(g, 'line', {x1: L, y1: sy(i), x2: R, y2: sy(i), stroke: '#e6e6e6', 'stroke-width': 0.8}, 'row-gridline'));
  add(g, 'rect', {x: L, y: T, width: R - L, height: B - T, fill: 'none', stroke: '#333', 'stroke-width': 1}, 'plot-border');
  function pColor(p) {
    if (p >= 0.3) return '#ff0000';
    if (p >= 0.2) return '#c02008';
    if (p >= 0.12) return '#7a5a10';
    if (p >= 0.06) return '#40a020';
    return '#22ee22';
  }
  mtGenes.forEach((n, i) => {
    add(g, 'line', {x1: sx(0), y1: sy(i), x2: sx(mtCorr[i]), y2: sy(i), stroke: '#333', 'stroke-width': 1.2}, 'lollipop-stem-' + n.replace(/\s/g, '').toLowerCase());
    add(g, 'circle', {cx: sx(mtCorr[i]), cy: sy(i), r: 0.7 + Math.abs(mtCorr[i]) * 7.5, fill: pColor(mtP[i])}, 'lollipop-dot-' + n.replace(/\s/g, '').toLowerCase());
    add(g, 'line', {x1: L - 3, y1: sy(i), x2: L, y2: sy(i), stroke: '#333'}, 'y-tick');
    txt(g, 642, sy(i) + 6, n, {'font-size': 16, 'text-anchor': 'end'}, 'y-tick-label');
  });
  corrTicks.forEach((v, i) => {
    add(g, 'line', {x1: sx(v), y1: B, x2: sx(v), y2: B + 3, stroke: '#333'}, 'x-tick');
    txt(g, sx(v), 1522, corrTickLabels[i], {'font-size': 16, 'text-anchor': 'middle'}, 'x-tick-label');
  });
  txt(g, 780, 1542, 'Correlation coefficient (r)', {'font-size': 16, 'text-anchor': 'middle'}, 'x-axis-title');
  txt(g, 774, 1194, 'NR4A1', {'font-size': 16, 'text-anchor': 'middle'}, 'chart-title');
  const cby = p => 1321.7 - p * 138.8;
  txt(g, 915, 1224, 'P-value', {'font-size': 16}, 'colorbar-title');
  add(g, 'rect', {x: 928.6, y: 1230.8, width: 12.8, height: 95.2, fill: 'url(#pgrad)', stroke: '#333', 'stroke-width': 0.7}, 'colorbar');
  pTicks.forEach(p => {
    add(g, 'line', {x1: 938.5, y1: cby(p), x2: 941.4, y2: cby(p), stroke: '#333', 'stroke-width': 0.6}, 'colorbar-tick');
    txt(g, 945, cby(p) + 5, p.toFixed(1), {'font-size': 15.5}, 'colorbar-tick-label');
  });
  txt(g, 924, 1402, 'Correlation', {'font-size': 16}, 'size-legend-title');
  add(g, 'circle', {cx: 960.5, cy: 1415, r: 0.9, fill: '#000'}, 'size-legend-dot-small');
  txt(g, 967, 1421, '0.1', {'font-size': 16}, 'size-legend-label-small');
  add(g, 'circle', {cx: 960.5, cy: 1429, r: 1.6, fill: '#000'}, 'size-legend-dot-large');
  txt(g, 967, 1436, '0.2', {'font-size': 16}, 'size-legend-label-large');
})();
</script>
</body></html>
